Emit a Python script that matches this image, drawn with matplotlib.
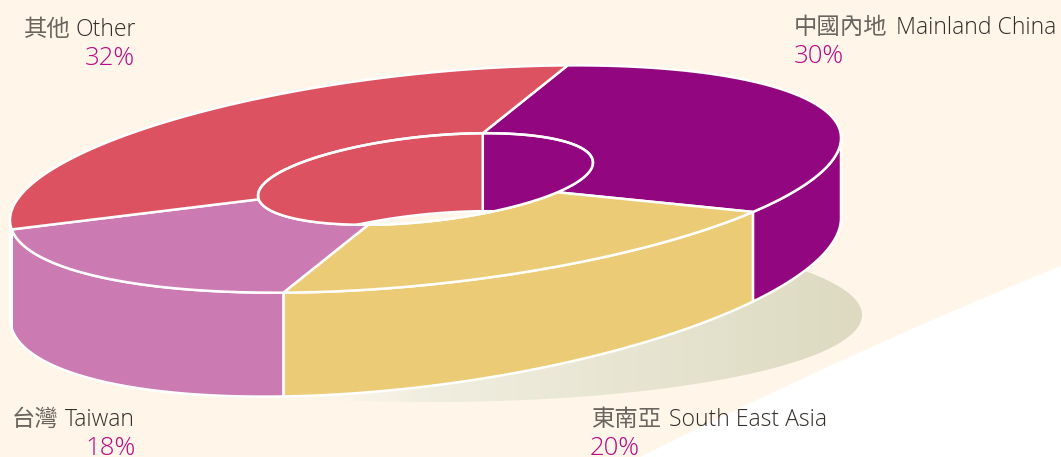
import numpy as np
import matplotlib
matplotlib.use("Agg")
import matplotlib.pyplot as plt
from matplotlib.colors import to_rgb
from matplotlib.patches import Polygon, PathPatch
from matplotlib.path import Path

# ---- data ----
categories_zh = ["中國內地", "東南亞", "台灣", "其他"]
categories_en = ["Mainland China", "South East Asia", "Taiwan", "Other"]
shares = [30, 20, 18, 32]
colors = ["#92077F", "#EBCB75", "#CB7AB2", "#DC5260"]
# label anchors
zh_x = [794, 591, 12, 24]
en_x = [896, 669, 65, 136]
en_ha = ["left", "left", "left", "right"]
label_y = [34, 426, 426, 36]
pct_x = [794, 590, 136, 135]
pct_ha = ["left", "left", "right", "right"]

W, H = 1061, 457
BG = "#FFF5E9"
TXT = "#332D29"
TXT_ZH = "#6A645F"
PCT = "#B80A82"
LATIN = ["Open Sans", "DejaVu Sans"]
CJK = ["Noto Sans CJK TC", "DejaVu Sans"]

# ---- pie geometry in picture pixels ----
CX, RX = 425.5, 415.5
CY, AT, BT = 179.0, -41.0, 106.0      # top face
CY2, AB, BB = 268.0, -50.0, 118.5     # lower rim
INNER = 0.403
INNER_DEPTH = 78.0
START = np.deg2rad(-70.0)             # image angle of first slice start


def top(t, r=1.0):
    return np.c_[CX + r * RX * np.cos(t),
                 CY + r * (AT * np.cos(t) + BT * np.sin(t))]


def lower(t):
    return np.c_[CX + RX * np.cos(t),
                 CY2 + AB * np.cos(t) + BB * np.sin(t)]


fig = plt.figure(figsize=(W / 100, H / 100), dpi=100, facecolor="white")
ax = fig.add_axes([0, 0, 1, 1])
ax.set_xlim(0, W)
ax.set_ylim(H, 0)
ax.axis("off")

# cream background with a curved white corner
verts = [(0, 0), (W, 0), (W, 266), (860, 347), (640, 457), (0, 457), (0, 0)]
codes = [Path.MOVETO, Path.LINETO, Path.LINETO, Path.CURVE3, Path.CURVE3,
         Path.LINETO, Path.CLOSEPOLY]
ax.add_patch(PathPatch(Path(verts, codes), fc=BG, ec="none", zorder=0))

# gradient shadow
ts = np.linspace(0, 2 * np.pi, 400)
shadow = np.c_[422 + 440 * np.cos(ts), 313 + 2 * np.cos(ts) + 89 * np.sin(ts)]
sh_patch = Polygon(shadow, closed=True, fc="none", ec="none", zorder=1)
ax.add_patch(sh_patch)
xs = np.linspace(0, 1, 256)
c0, c1 = np.array(to_rgb("#F6F4E9")), np.array(to_rgb("#DDDAC1"))
grad = np.zeros((1, 256, 4))
grad[0, :, :3] = c0 + (c1 - c0) * xs[:, None]
grad[..., 3] = np.clip(xs / 0.22, 0, 1)
im = ax.imshow(grad, extent=(300, 862, 402, 224), aspect="auto", zorder=1)
im.set_clip_path(sh_patch)
ax.set_xlim(0, W)
ax.set_ylim(H, 0)

# slice angles from the values
fracs = np.array(shares, dtype=float) / sum(shares)
edges = START + np.r_[0, np.cumsum(fracs)] * 2 * np.pi
LW = 1.8

# outer wall: the near half only
for i in range(4):
    a, b = max(edges[i], 0.0), min(edges[i + 1], np.pi)
    if b <= a:
        continue
    t = np.linspace(a, b, 150)
    ax.add_patch(Polygon(np.r_[top(t), lower(t)[::-1]], closed=True,
                         fc=colors[i], ec="white", lw=LW, joinstyle="round", zorder=2))

# top face
for i in range(4):
    t = np.linspace(edges[i], edges[i + 1], 200)
    ax.add_patch(Polygon(np.r_[top(t), top(t[::-1], INNER)], closed=True,
                         fc=colors[i], ec="white", lw=LW, joinstyle="round", zorder=3))

# inner wall seen through the hole
hole = Polygon(top(ts, INNER), closed=True, fc="none", ec="none", zorder=4)
ax.add_patch(hole)
ax.add_patch(Polygon(top(ts, INNER), closed=True, fc=BG, ec="none", zorder=4))
for i in range(4):
    for shift in (-2 * np.pi, 0.0):
        a = max(edges[i] + shift, -np.pi)
        b = min(edges[i + 1] + shift, 0.0)
        if b <= a:
            continue
        t = np.linspace(a, b, 150)
        up = top(t, INNER)
        dn = up + [0, INNER_DEPTH]
        p = Polygon(np.r_[up, dn[::-1]], closed=True, fc=colors[i], ec="white",
                    lw=LW, zorder=4)
        ax.add_patch(p)
        p.set_clip_path(hole)
ax.add_patch(Polygon(top(ts, INNER), closed=True, fc="none", ec="white", lw=LW, zorder=5))

# labels
for i in range(4):
    ax.text(zh_x[i], label_y[i], categories_zh[i], ha="left", va="baseline",
            fontsize=16.8, color=TXT_ZH, family=CJK, zorder=6)
    ax.text(en_x[i], label_y[i], categories_en[i], ha=en_ha[i], va="baseline",
            fontsize=16.6, color=TXT, family=LATIN, fontweight="light", zorder=6)
    ax.text(pct_x[i], label_y[i] + 29, f"{shares[i]}%", ha=pct_ha[i], va="baseline",
            fontsize=18.5, color=PCT, family=LATIN, fontweight="light", zorder=6)

fig.savefig("out.png", dpi=100, facecolor="white")
